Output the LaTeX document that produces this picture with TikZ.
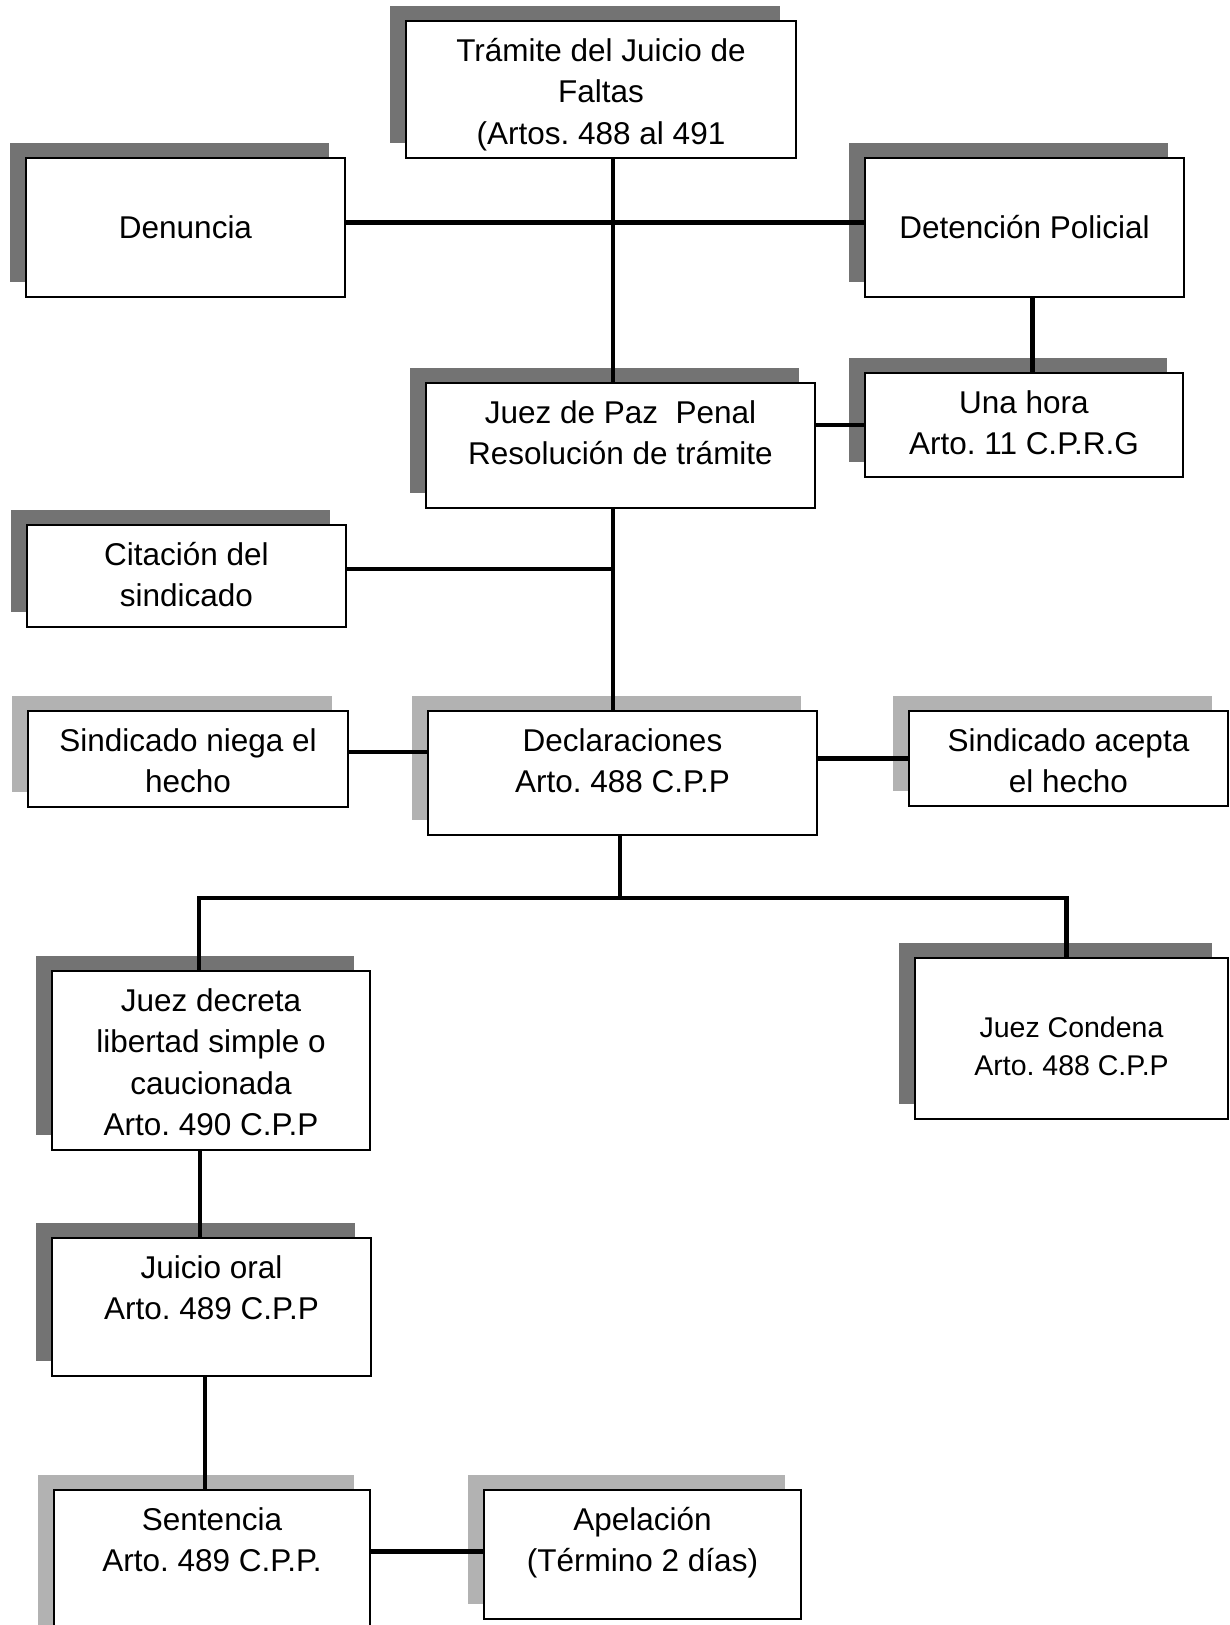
\documentclass[tikz,border=0pt]{standalone}
\usepackage{fontspec}
\setmainfont{Liberation Sans}
\usetikzlibrary{shadows}
\frenchspacing

\begin{document}
\begin{tikzpicture}[
    x=1pt,y=-1pt,
    box/.style={draw,line width=2.2pt,fill=white,inner sep=0pt,align=center,
      font=\fontsize{31.5}{41.5}\selectfont},
    darkbox/.style={box,general shadow={fill=black!55,shadow xshift=-16pt,shadow yshift=15pt}},
    palebox/.style={box,general shadow={fill=black!30,shadow xshift=-16pt,shadow yshift=15pt}},
    toptext/.style 2 args={text height=#1,text depth=#2},
    link/.style={line width=4.2pt}
  ]
    \useasboundingbox (0,0) rectangle (1230,1625);
    \coordinate (spine) at (613,0);
    \coordinate (fork) at (620,898);

    \node[darkbox,minimum width=390pt,minimum height=137pt,toptext={123pt}{14pt}] (tramite) at (601,89.5) {Trámite del Juicio de\\Faltas\\(Artos. 488 al 491};
    \node[darkbox,minimum width=319pt,minimum height=139pt] (denuncia) at (185.5,227.5) {Denuncia};
    \node[darkbox,minimum width=319pt,minimum height=139pt] (detencion) at (1024.5,227.5) {Detención Policial};
    \node[darkbox,minimum width=389pt,minimum height=125pt,toptext={81.5pt}{43.5pt}] (juezpaz) at (620.5,445.5) {Juez de Paz\ \ Penal\\Resolución de trámite};
    \node[darkbox,minimum width=318pt,minimum height=104pt,toptext={81.5pt}{22.5pt}] (unahora) at (1024,425) {Una hora\\Arto. 11 C.P.R.G};
    \node[darkbox,minimum width=319pt,minimum height=102pt,toptext={81.5pt}{20.5pt}] (citacion) at (186.5,576) {Citación del\\sindicado};
    \node[palebox,minimum width=320pt,minimum height=96pt,toptext={81.5pt}{14.5pt}] (niega) at (188,759) {Sindicado niega el\\hecho};
    \node[palebox,minimum width=389pt,minimum height=124pt,toptext={81.5pt}{42.5pt}] (declaraciones) at (622.5,773) {Declaraciones\\Arto. 488 C.P.P};
    \node[palebox,minimum width=319pt,minimum height=95pt,toptext={81.5pt}{13.5pt}] (acepta) at (1068.5,758.5) {Sindicado acepta\\el hecho};
    \node[darkbox,minimum width=318pt,minimum height=179pt,toptext={164.5pt}{14.5pt}] (decreta) at (211,1060.5) {Juez decreta\\libertad simple o\\caucionada\\Arto. 490 C.P.P};
    \node[darkbox,minimum width=313pt,minimum height=161pt,toptext={117pt}{44pt},font=\fontsize{28.5}{38}\selectfont] (condena) at (1071.5,1038.5) {Juez Condena\\Arto. 488 C.P.P};
    \node[darkbox,minimum width=319pt,minimum height=138pt,toptext={81.5pt}{56.5pt}] (juicio) at (211.5,1307) {Juicio oral\\Arto. 489 C.P.P};
    \node[palebox,minimum width=316pt,minimum height=150pt,toptext={81.5pt}{68.5pt}] (sentencia) at (212,1565) {Sentencia\\Arto. 489 C.P.P.};
    \node[palebox,minimum width=317pt,minimum height=129pt,toptext={81.5pt}{47.5pt}] (apelacion) at (642.5,1554.5) {Apelación\\(Término 2 días)};

    \draw[link] (tramite.south -| spine) -- (juezpaz.north -| spine);
    \draw[link,transform canvas={yshift=5pt}] (denuncia.east) -- (detencion.west);
    \draw[link,transform canvas={xshift=8pt}] (detencion.south) -- (detencion.south |- unahora.north);
    \draw[link] (juezpaz.east |- unahora.west) -- (unahora.west);
    \draw[link] (juezpaz.south -| spine) -- (declaraciones.north -| spine);
    \draw[link,transform canvas={yshift=7pt}] (citacion.east) -- (citacion.east -| spine);
    \draw[link,transform canvas={yshift=7pt}] (niega.east) -- (niega.east -| declaraciones.west);
    \draw[link] (declaraciones.east |- acepta.west) -- (acepta.west);
    \draw[link] (declaraciones.south -| fork) -- (fork);
    \draw[link] ([xshift=-12pt]decreta.north) |- (fork) -| ([xshift=-5pt]condena.north);
    \draw[link,transform canvas={xshift=-11pt}] (decreta.south) -- (decreta.south |- juicio.north);
    \draw[link,transform canvas={xshift=-6.5pt}] (juicio.south) -- (juicio.south |- sentencia.north);
    \draw[link,transform canvas={yshift=3pt}] (sentencia.east |- apelacion.west) -- (apelacion.west);
\end{tikzpicture}
\end{document}
